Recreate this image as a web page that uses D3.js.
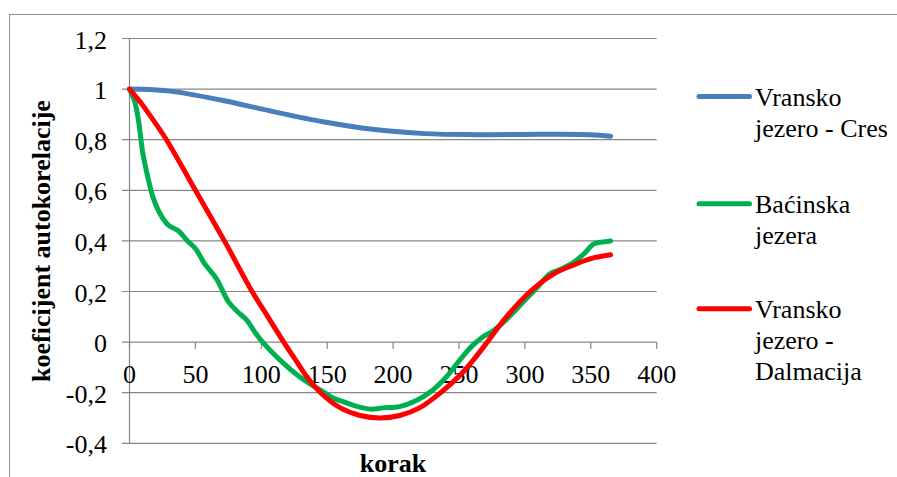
<!DOCTYPE html>
<html>
<head>
<meta charset="utf-8">
<script src="https://cdn.jsdelivr.net/npm/d3@7"></script>
<style>
  body { margin: 0; background: #fff; }
</style>
</head>
<body>
<div id="chart"></div>
<script>
// lag (korak) / autocorrelation values
var cresLag = [0, 15, 35, 72, 110, 148, 186, 224, 262, 300, 325, 350, 365]
var cresVal = [1, 0.998, 0.989, 0.954, 0.91, 0.87, 0.84, 0.824, 0.82, 0.821, 0.822, 0.82, 0.814]

var bacLag = [0, 4, 7, 10, 14, 18, 24, 30, 37, 44, 50, 57, 66, 75, 82, 89, 95, 101, 114, 129, 137, 145, 155, 162, 170, 177, 184, 192, 205, 218, 230, 240, 250, 260, 268, 276, 286, 299, 310, 319, 328, 337, 345, 352, 358, 365]
var bacVal = [1, 0.95, 0.87, 0.75, 0.65, 0.57, 0.5, 0.46, 0.44, 0.4, 0.37, 0.31, 0.25, 0.16, 0.12, 0.087, 0.04, 0, -0.07, -0.137, -0.165, -0.19, -0.222, -0.235, -0.25, -0.26, -0.265, -0.26, -0.255, -0.23, -0.19, -0.14, -0.075, -0.015, 0.02, 0.045, 0.09, 0.16, 0.22, 0.27, 0.29, 0.315, 0.35, 0.387, 0.395, 0.4]

var dalLag = [0, 8, 15, 28, 50, 72, 93, 105, 117, 126, 135, 145, 160, 175, 190, 205, 220, 236, 251, 261, 270, 286, 304, 322, 337, 350, 365]
var dalVal = [1, 0.95, 0.9, 0.8, 0.6, 0.4, 0.2, 0.1, 0, -0.07, -0.14, -0.2, -0.26, -0.29, -0.3, -0.29, -0.26, -0.2, -0.13, -0.07, -0.01, 0.1, 0.2, 0.27, 0.305, 0.33, 0.345]

var yTicks = [-0.4, -0.2, 0, 0.2, 0.4, 0.6, 0.8, 1, 1.2]
var xTicks = [0, 50, 100, 150, 200, 250, 300, 350, 400]

var seriesNames = [["Vransko", "jezero - Cres"], ["Baćinska", "jezera"], ["Vransko", "jezero -", "Dalmacija"]]
var seriesColors = ["#4A7EBB", "#00B050", "#FF0000"]

var width = 897, height = 477
var grid = "#868686"
var serif = "Liberation Serif"

var svg = d3.select("#chart").append("svg")
    .attr("width", width)
    .attr("height", height)

// outer chart border
svg.append("rect")
    .attr("x", 9.5).attr("y", 14.5)
    .attr("width", 1000).attr("height", 1000)
    .attr("fill", "none").attr("stroke", "#8c8c8c")

var x = d3.scaleLinear().domain([0, 400]).range([129.5, 656.7])
var y = d3.scaleLinear().domain([-0.4, 1.2]).range([443.3, 38.5])

var fmt = function(d) { return String(+d.toFixed(1)).replace(".", ",") }

// horizontal gridlines with the left tick stubs
svg.append("g").selectAll("line")
    .data(yTicks)
    .enter().append("line")
    .attr("x1", 122).attr("x2", x(400))
    .attr("y1", function(d) { return y(d) }).attr("y2", function(d) { return y(d) })
    .attr("stroke", grid).attr("stroke-width", 1.2)

// vertical axis
svg.append("line")
    .attr("x1", x(0)).attr("x2", x(0))
    .attr("y1", y(1.2)).attr("y2", y(-0.4))
    .attr("stroke", grid).attr("stroke-width", 1.2)

// x ticks hang below the zero line
svg.append("g").selectAll("line")
    .data(xTicks)
    .enter().append("line")
    .attr("x1", function(d) { return x(d) }).attr("x2", function(d) { return x(d) })
    .attr("y1", y(0)).attr("y2", y(0) + 7)
    .attr("stroke", grid).attr("stroke-width", 1.2)

svg.append("g").selectAll("text")
    .data(yTicks)
    .enter().append("text")
    .attr("x", 107)
    .attr("y", function(d) { return y(d) + 10 })
    .attr("text-anchor", "end")
    .attr("font-family", serif)
    .attr("font-size", 26)
    .text(fmt)

svg.append("g").selectAll("text")
    .data(xTicks)
    .enter().append("text")
    .attr("x", function(d) { return x(d) })
    .attr("y", 383)
    .attr("text-anchor", "middle")
    .attr("font-family", serif)
    .attr("font-size", 26)
    .text(function(d) { return d })

svg.append("text")
    .attr("transform", "translate(50,241) rotate(-90)")
    .attr("text-anchor", "middle")
    .attr("font-family", serif)
    .attr("font-size", 26).attr("font-weight", "bold")
    .text("koeficijent autokorelacije")

svg.append("text")
    .attr("x", (x(0) + x(400)) / 2)
    .attr("y", 472)
    .attr("text-anchor", "middle")
    .attr("font-family", serif)
    .attr("font-size", 26).attr("font-weight", "bold")
    .text("korak")

var line = d3.line()
    .x(function(d) { return x(d[0]) })
    .y(function(d) { return y(d[1]) })
    .curve(d3.curveCatmullRom.alpha(0.5))

var series = [d3.zip(cresLag, cresVal), d3.zip(bacLag, bacVal), d3.zip(dalLag, dalVal)]

svg.append("g").selectAll("path")
    .data(series)
    .enter().append("path")
    .attr("d", line)
    .attr("fill", "none")
    .attr("stroke", function(d, i) { return seriesColors[i] })
    .attr("stroke-width", 5)
    .attr("stroke-linecap", "round")
    .attr("stroke-linejoin", "round")

// legend
var legendTop = [106, 213.3, 318.3]
var legend = svg.append("g").selectAll("g")
    .data(seriesNames)
    .enter().append("g")
    .attr("transform", function(d, i) { return "translate(0," + legendTop[i] + ")" })

legend.append("line")
    .attr("x1", 699).attr("x2", 749.5)
    .attr("y1", -9.5).attr("y2", -9.5)
    .attr("stroke", function(d, i) { return seriesColors[i] })
    .attr("stroke-width", 5)
    .attr("stroke-linecap", "round")

legend.selectAll("text")
    .data(function(d) { return d })
    .enter().append("text")
    .attr("x", 755)
    .attr("y", function(d, j) { return j * 30.8 })
    .attr("font-family", serif)
    .attr("font-size", 26)
    .text(function(d) { return d })
</script>
</body>
</html>
